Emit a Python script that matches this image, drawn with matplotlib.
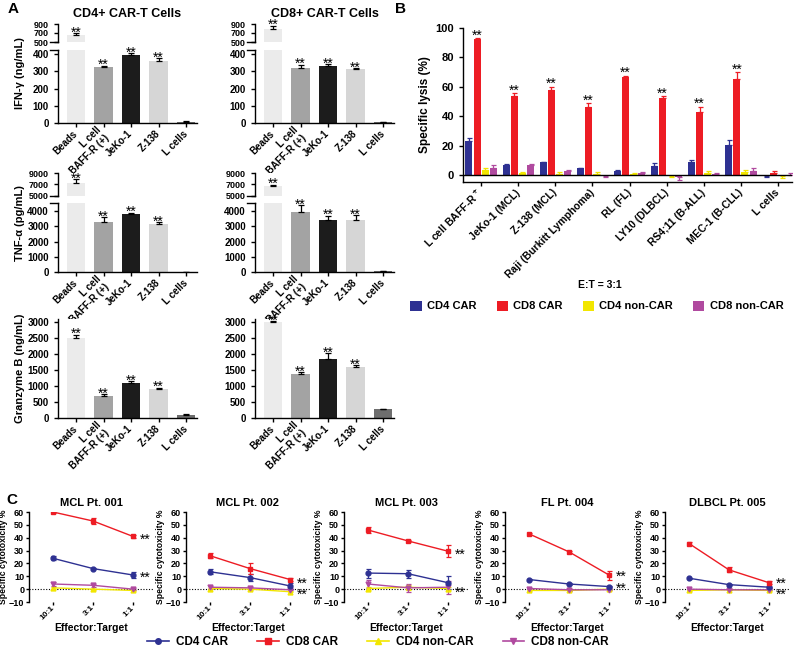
import matplotlib
matplotlib.use('Agg')
import matplotlib.pyplot as plt
from matplotlib.patches import Patch
from matplotlib.lines import Line2D
import numpy as np

plt.rcParams['font.family'] = ['Liberation Sans', 'DejaVu Sans']
plt.rcParams['font.weight'] = 'bold'
plt.rcParams['axes.labelweight'] = 'bold'
plt.rcParams['axes.titleweight'] = 'bold'
plt.rcParams['axes.linewidth'] = 1.0
plt.rcParams['mathtext.default'] = 'bf'

# ---- panel A data ----
a_targets = ['Beads', 'L cell\nBAFF-R (+)', 'JeKo-1', 'Z-138', 'L cells']
a_colors = ['#ebebeb', '#a3a3a3', '#1c1c1c', '#d6d6d6', '#6e6e6e']
ifn_cd4 = [660, 325, 397, 360, 8]
ifn_cd4_err = [30, 8, 8, 15, 3]
ifn_cd8 = [780, 318, 332, 312, 5]
ifn_cd8_err = [80, 20, 10, 8, 2]
tnf_cd4 = [7200, 3300, 3800, 3150, 0]
tnf_cd4_err = [800, 300, 100, 100, 0]
tnf_cd8 = [6700, 3950, 3400, 3400, 60]
tnf_cd8_err = [250, 450, 300, 350, 20]
gzb_cd4 = [2500, 700, 1100, 920, 90]
gzb_cd4_err = [100, 50, 50, 30, 20]
gzb_cd8 = [3000, 1370, 1850, 1600, 270]
gzb_cd8_err = [30, 60, 170, 60, 20]
a_stars = [True, True, True, True, False]

# ---- panel B data ----
b_targets = ['L cell BAFF-R$^+$', 'JeKo-1 (MCL)', 'Z-138 (MCL)', 'Raji (Burkitt Lymphoma)',
             'RL (FL)', 'LY10 (DLBCL)', 'RS4;11 (B-ALL)', 'MEC-1 (B-CLL)', 'L cells']
groups = ['CD4 CAR', 'CD8 CAR', 'CD4 non-CAR', 'CD8 non-CAR']
g_colors = ['#2e3192', '#ed1c24', '#f2e600', '#b04a9f']
lysis_cd4 = [23, 7, 8.5, 4.5, 3, 6, 9, 20.5, -1]
lysis_cd4_err = [2, 0.5, 0.5, 0.5, 0.5, 2, 1.5, 3.5, 0.5]
lysis_cd8 = [92.5, 54, 58, 46.5, 66.5, 52.5, 43, 65, 1.5]
lysis_cd8_err = [0.7, 1.5, 2, 2.5, 1, 1, 3.5, 5, 1.5]
lysis_cd4n = [3.5, 1, 0.5, 0.5, 0.5, -0.5, 1, 2, -0.5]
lysis_cd4n_err = [1.5, 1, 1.5, 1.5, 1, 1, 1.5, 1.5, 1.5]
lysis_cd8n = [5, 6.5, 3, -0.5, 1.5, -1.5, 0.5, 3, 0]
lysis_cd8n_err = [2, 1, 0.5, 1, 0.5, 2, 0.5, 1.5, 1]
b_stars = [True] * 8 + [False]

# ---- panel C data ----
ratios = ['10:1', '3:1', '1:1']
patients = ['MCL Pt. 001', 'MCL Pt. 002', 'MCL Pt. 003', 'FL Pt. 004', 'DLBCL Pt. 005']
c_cd4 = [[24, 16, 11], [13.5, 9, 2.5], [12.5, 12, 5], [7.5, 4, 2], [8.5, 3.5, 1.5]]
c_cd4_err = [[1.5, 0.5, 2.5], [2, 3, 2], [3.5, 3, 5], [0.5, 0.5, 0.5], [0.5, 0.5, 0.5]]
c_cd8 = [[60, 53, 41], [26, 16, 7.5], [46, 37.5, 29.5], [43, 29, 11], [35.5, 15, 5]]
c_cd8_err = [[1, 2, 1], [2, 4, 1], [2, 1, 4.5], [1, 1, 3.5], [1, 2, 1]]
c_cd4n = [[1, 0, -1], [0.5, 0, -2], [0.5, 1.5, 0.5], [-1, -1, 0], [-1, -0.5, -1]]
c_cd4n_err = [[1, 0.5, 0.5], [0.5, 0.5, 0.5], [1, 2, 1], [0.5, 0.5, 0.5], [0.5, 0.5, 0.5]]
c_cd8n = [[4, 3, 0], [1.5, 1, -0.5], [4, 1, 1.5], [0.5, -0.5, -0.5], [0, -0.5, -0.5]]
c_cd8n_err = [[1.5, 1, 1], [1, 1, 0.5], [3, 3, 5], [0.5, 1, 0.5], [0.5, 0.5, 0.5]]
c_star_y = [[41, 11], [7, -1.5], [29, 0], [12, 3], [6.5, -1.5]]

W, H = 800, 649
fig = plt.figure(figsize=(8, 6.49), dpi=100)


def rect(x0, y0, x1, y1):
    return [x0 / W, 1 - y1 / H, (x1 - x0) / W, (y1 - y0) / H]


def style(ax):
    for s in ['top', 'right']:
        ax.spines[s].set_visible(False)
    ax.tick_params(direction='out', length=3, width=1, labelsize=7)


def bars_a(ax, vals, errs):
    x = np.arange(len(vals))
    ax.bar(x, vals, 0.68, color=a_colors, zorder=2)
    ax.errorbar(x, vals, yerr=[np.zeros(len(errs)), errs], fmt='none',
                ecolor='k', elinewidth=0.9, capsize=2.5, capthick=0.9, zorder=3)
    ax.set_xlim(-0.66, 4.4)


def stars_a(ax, vals, errs, idx):
    for i in idx:
        ax.annotate('**', (i, vals[i] + errs[i]), xytext=(0, -2.5), textcoords='offset points',
                    ha='center', va='baseline', fontsize=10, fontweight='normal',
                    annotation_clip=False)


def panel_a(x0, x1, rows, vals, errs, ylabel, title=None):
    x = np.arange(len(vals))
    if len(rows) == 2:
        (ut, ub, ulim, uticks), (lt, lb, llim, lticks) = rows
        axu = fig.add_axes(rect(x0, ut, x1, ub))
        axl = fig.add_axes(rect(x0, lt, x1, lb))
        for ax in (axu, axl):
            style(ax)
            bars_a(ax, vals, errs)
        axu.set_ylim(*ulim)
        axu.set_yticks(uticks)
        axu.tick_params(labelsize=6.5)
        axu.spines['bottom'].set_visible(False)
        axu.set_xticks([])
        axl.set_ylim(*llim)
        axl.set_yticks(lticks)
        axu.plot([-0.06, 0], [0, 0], color='k', lw=1, transform=axu.transAxes, clip_on=False)
        axl.plot([-0.06, 0], [1, 1], color='k', lw=1, transform=axl.transAxes, clip_on=False)
        stars_a(axu, vals, errs, [i for i in range(len(vals)) if a_stars[i] and vals[i] >= ulim[0]])
        stars_a(axl, vals, errs, [i for i in range(len(vals)) if a_stars[i] and vals[i] < ulim[0]])
        ax_main = axl
    else:
        t, b, lim, ticks = rows[0]
        ax_main = fig.add_axes(rect(x0, t, x1, b))
        style(ax_main)
        bars_a(ax_main, vals, errs)
        ax_main.set_ylim(*lim)
        ax_main.set_yticks(ticks)
        stars_a(ax_main, vals, errs, [i for i in range(len(vals)) if a_stars[i]])
    ax_main.set_xticks(x)
    ax_main.set_xticklabels(a_targets, rotation=45, ha='right', va='center',
                            rotation_mode='anchor', fontsize=7, multialignment='right')
    if ylabel:
        fig.text((x0 - 38) / W, 1 - ((rows[0][0] + rows[-1][1]) / 2) / H, ylabel,
                 rotation=90, ha='center', va='center', fontsize=8)
    if title:
        fig.text((x0 + x1) / 2 / W, 1 - 14 / H, title, ha='center', va='center', fontsize=9)


ifn_rows = [(24, 42, (500, 900), [500, 700, 900]), (49.7, 123, (0, 425), [0, 100, 200, 300, 400])]
tnf_rows = [(173.3, 195.7, (5000, 9000), [5000, 7000, 9000]),
            (203.4, 272, (0, 4500), [0, 1000, 2000, 3000, 4000])]
gzb_rows = [(318.8, 418, (0, 3100), [0, 500, 1000, 1500, 2000, 2500, 3000])]

panel_a(58, 197, ifn_rows, ifn_cd4, ifn_cd4_err, 'IFN-γ (ng/mL)', 'CD4+ CAR-T Cells')
panel_a(255, 394, ifn_rows, ifn_cd8, ifn_cd8_err, None, 'CD8+ CAR-T Cells')
panel_a(58, 197, tnf_rows, tnf_cd4, tnf_cd4_err, 'TNF-α (pg/mL)')
panel_a(255, 394, tnf_rows, tnf_cd8, tnf_cd8_err, None)
panel_a(58, 197, gzb_rows, gzb_cd4, gzb_cd4_err, 'Granzyme B (ng/mL)')
panel_a(255, 394, gzb_rows, gzb_cd8, gzb_cd8_err, None)

# ---- panel B ----
axb = fig.add_axes(rect(463, 28, 792, 182))
style(axb)
xb = np.arange(len(b_targets))
slot = 0.22
b_vals = [lysis_cd4, lysis_cd8, lysis_cd4n, lysis_cd8n]
b_errs = [lysis_cd4_err, lysis_cd8_err, lysis_cd4n_err, lysis_cd8n_err]
for k in range(4):
    xs = xb + (k - 1.5) * slot
    v = np.array(b_vals[k])
    e = np.array(b_errs[k])
    axb.bar(xs, v, 0.19, color=g_colors[k], zorder=2)
    up = np.where(v >= 0, e, 0)
    dn = np.where(v < 0, e, 0)
    axb.errorbar(xs, v, yerr=[dn, up], fmt='none', ecolor=g_colors[k],
                 elinewidth=0.9, capsize=1.8, capthick=0.9, zorder=3)
for i in range(len(b_targets)):
    if b_stars[i]:
        axb.annotate('**', (i - 0.5 * slot, lysis_cd8[i] + lysis_cd8_err[i]), xytext=(0, -1),
                     textcoords='offset points', ha='center', va='baseline',
                     fontsize=10, fontweight='normal')
axb.axhline(0, color='k', lw=1, zorder=4)
axb.set_xlim(-0.49, 8.38)
axb.set_ylim(-4.8, 100)
axb.set_yticks([0, 20, 40, 60, 80, 100])
axb.tick_params(labelsize=8)
axb.set_xticks(xb)
axb.set_xticklabels(b_targets, rotation=45, ha='right', va='center',
                    rotation_mode='anchor', fontsize=7.5)
axb.set_ylabel('Specific lysis (%)', fontsize=8.5, labelpad=3)
fig.text(600 / W, 1 - 285 / H, 'E:T = 3:1', ha='center', va='center', fontsize=7.5)
handles_b = [Patch(facecolor=c, label=g) for c, g in zip(g_colors, groups)]
fig.legend(handles=handles_b, loc='center', bbox_to_anchor=(597 / W, 1 - 306 / H), ncol=4,
           frameon=False, fontsize=8, handlelength=1.0, handleheight=1.0,
           handletextpad=0.5, columnspacing=1.8)

# ---- panel C ----
c_x0 = [29, 186, 344, 505, 665]
c_markers = ['o', 's', '^', 'v']
xc = np.arange(len(ratios))
for p in range(len(patients)):
    ax = fig.add_axes(rect(c_x0[p], 512, c_x0[p] + 124, 602))
    style(ax)
    ax.spines['bottom'].set_visible(False)
    series = [(c_cd4[p], c_cd4_err[p]), (c_cd8[p], c_cd8_err[p]),
              (c_cd4n[p], c_cd4n_err[p]), (c_cd8n[p], c_cd8n_err[p])]
    for k in [2, 3, 0, 1]:
        v, e = series[k]
        ax.errorbar(xc, v, yerr=e, color=g_colors[k], marker=c_markers[k], ms=3.5,
                    lw=1, elinewidth=0.9, capsize=1.8, capthick=0.9, zorder=3)
    ax.axhline(0, color='k', lw=0.8, ls=(0, (1, 1.5)), zorder=1)
    for sy in c_star_y[p]:
        ax.text(2.18, sy - 2.5, '**', ha='left', va='center', fontsize=10,
                fontweight='normal', clip_on=False)
    ax.set_xlim(-0.6, 2.5)
    ax.set_ylim(-10, 60)
    ax.set_yticks(range(-10, 61, 10))
    ax.tick_params(axis='y', labelsize=6.5, pad=1, length=2.5)
    ax.tick_params(axis='x', length=2.5, pad=1)
    ax.set_xticks(xc)
    ax.set_xticklabels(ratios, rotation=45, ha='right', va='center',
                       rotation_mode='anchor', fontsize=6)
    ax.set_xlabel('Effector:Target', fontsize=7.5, labelpad=1)
    ax.set_ylabel('Specific cytotoxicity %', fontsize=6.2, labelpad=0.3)
    ax.set_title(patients[p], fontsize=8, pad=4)

handles_c = [Line2D([], [], color=c, marker=m, ms=4, lw=1.2, label=g)
             for c, m, g in zip(g_colors, c_markers, groups)]
fig.legend(handles=handles_c, loc='center', bbox_to_anchor=(378 / W, 1 - 642 / H), ncol=4,
           frameon=False, fontsize=8.5, handlelength=1.8, handletextpad=0.6,
           columnspacing=2.5, borderpad=0.1)

# panel letters
fig.text(8 / W, 1 - 9 / H, 'A', fontsize=11, ha='left', va='center')
fig.text(395 / W, 1 - 9 / H, 'B', fontsize=11, ha='left', va='center')
fig.text(6 / W, 1 - 500 / H, 'C', fontsize=11, ha='left', va='center')

fig.savefig('out.png', dpi=100)
